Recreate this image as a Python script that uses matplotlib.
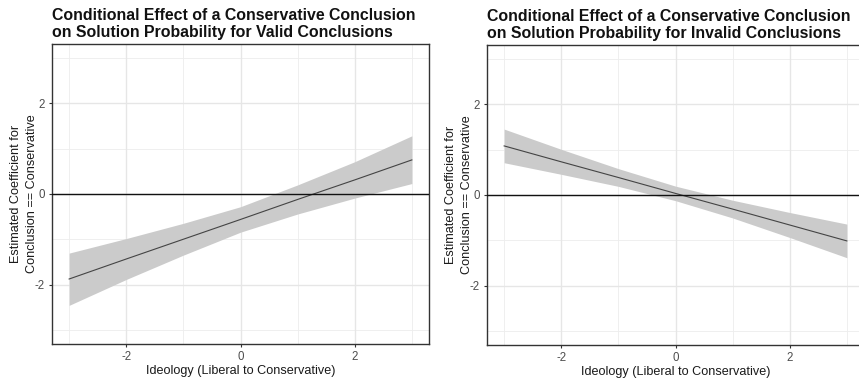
import matplotlib
matplotlib.use("Agg")
import matplotlib.pyplot as plt
import numpy as np

plt.rcParams['font.family'] = ['Liberation Sans', 'DejaVu Sans']

# Data
ideology = [-3, -2, -1, 0, 1, 2, 3]

valid_est = [-1.87, -1.43, -0.995, -0.56, -0.12, 0.31, 0.75]
valid_lo = [-2.45, -1.88, -1.345, -0.84, -0.44, -0.09, 0.23]
valid_hi = [-1.30, -0.98, -0.645, -0.28, 0.20, 0.71, 1.28]

invalid_est = [1.08, 0.73, 0.385, 0.035, -0.31, -0.66, -1.01]
invalid_lo = [0.71, 0.455, 0.19, -0.125, -0.505, -0.935, -1.38]
invalid_hi = [1.45, 1.005, 0.58, 0.195, -0.115, -0.385, -0.64]

titles = ["Conditional Effect of a Conservative Conclusion\non Solution Probability for Valid Conclusions",
          "Conditional Effect of a Conservative Conclusion\non Solution Probability for Invalid Conclusions"]
xlabel = "Ideology (Liberal to Conservative)"
ylabel = "Estimated Coefficient for\nConclusion == Conservative"
xticks = [-2, 0, 2]
yticks = [-2, 0, 2]

W, H = 859, 381
fig = plt.figure(figsize=(W / 100, H / 100), dpi=100)

boxes = [(52, 44, 429, 344), (487, 45, 864, 345)]
panels = [(valid_est, valid_lo, valid_hi), (invalid_est, invalid_lo, invalid_hi)]

for (x0, y0, x1, y1), (est, lo, hi), title in zip(boxes, panels, titles):
    ax = fig.add_axes([x0 / W, 1 - y1 / H, (x1 - x0) / W, (y1 - y0) / H])
    ax.set_xlim(-3.3, 3.3)
    ax.set_ylim(-3.3, 3.3)
    # grid
    for v in [-3, -1, 1, 3]:
        ax.axvline(v, color='#ededed', lw=0.6, zorder=0)
        ax.axhline(v, color='#ededed', lw=0.6, zorder=0)
    for v in [-2, 0, 2]:
        ax.axvline(v, color='#e6e6e6', lw=1.0, zorder=0)
        ax.axhline(v, color='#e6e6e6', lw=1.0, zorder=0)
    ax.fill_between(ideology, lo, hi, color='#cbcbcb', lw=0, zorder=1)
    ax.plot(ideology, est, color='#444444', lw=0.8, zorder=2)
    ax.axhline(0, color='#111111', lw=1.0, zorder=3)
    ax.set_xticks(xticks)
    ax.set_yticks(yticks)
    ax.set_xticklabels([str(t) for t in xticks])
    ax.set_yticklabels([str(t) for t in yticks])
    ax.tick_params(axis='both', length=2.5, width=0.8, color='#333333',
                   labelcolor='#4d4d4d', labelsize=8.3, pad=2.5)
    for s in ax.spines.values():
        s.set_color('#333333')
        s.set_linewidth(1.0)
    ax.set_xlabel(xlabel, fontsize=9.1, color='#1a1a1a', labelpad=1.5)
    ax.set_ylabel(ylabel, fontsize=9.1, color='#1a1a1a', labelpad=-2, linespacing=1.45)
    ax.set_title(title, loc='left', fontsize=11.4, fontweight='bold', color='#111111',
                 linespacing=1.15, pad=5)

fig.savefig("out.png", dpi=100, facecolor='white')
